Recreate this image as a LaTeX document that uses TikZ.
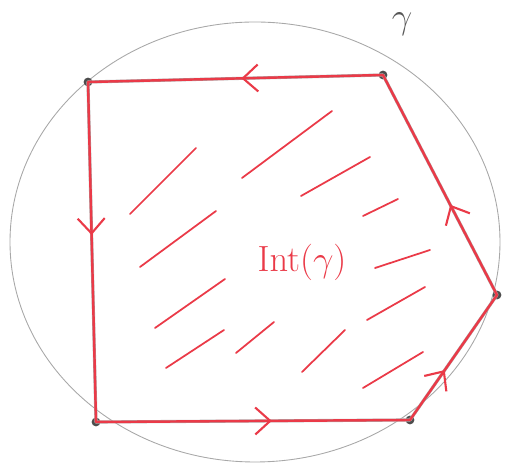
\documentclass[tikz,border=0pt]{standalone}
\usetikzlibrary{arrows.meta,decorations.markings}
\definecolor{lapiz}{RGB}{110,110,110}
\definecolor{rojo}{RGB}{234,58,72}
\tikzset{
  vert/.style={circle, fill=lapiz!70!black, inner sep=0pt, minimum size=5pt},
  sombra/.style={lapiz!55, line width=1.8pt, line cap=round},
  lado/.style={rojo, line width=1.4pt, line cap=round, postaction={decorate},
    decoration={markings, mark=at position #1 with
      {\arrow[line width=1.2pt]{Straight Barb[length=3mm,width=5.4mm]}}}},
  raya/.style={rojo, line width=1pt, line cap=round}
}

\begin{document}
\begin{tikzpicture}[x=0.02cm, y=-0.02cm]
  \useasboundingbox (0,0) rectangle (505,465);
  \draw[lapiz!60, line width=0.5pt] (255,242) ellipse [x radius=245, y radius=220];
  \node[lapiz!80!black, font=\huge] (gam) at (402,24) {$\gamma$};
  \foreach \n/\px/\py in {A/88/82, B/383/75, C/497/295, D/410/420, E/96/422}
    \node[vert] (\n) at (\px,\py) {};
  \foreach \a/\b in {A/E, E/D, D/C, C/B, B/A}
    \draw[sombra] (\a.center) -- (\b.center);
  \draw[lado=0.45] (A.center) -- (E.center);
  \draw[lado=0.56] (E.center) -- (D.center);
  \draw[lado=0.40] (D.center) -- (C.center);
  \draw[lado=0.41] (C.center) -- (B.center);
  \draw[lado=0.48] (B.center) -- (A.center);
  \foreach \xa/\ya/\xb/\yb in {130/214/196/148, 242/178/332/111, 301/196/370/157,
                               363/216/398/199, 140/267/216/211, 155/328/225/279,
                               166/368/224/330, 236/353/274/322, 302/372/345/330,
                               363/388/423/352, 367/320/425/287, 375/268/430/250}
    \draw[raya] (\xa,\ya) -- (\xb,\yb);
  \node[rojo, font=\huge] (int) at (302,262) {$\mathrm{Int}(\gamma)$};
\end{tikzpicture}
\end{document}
